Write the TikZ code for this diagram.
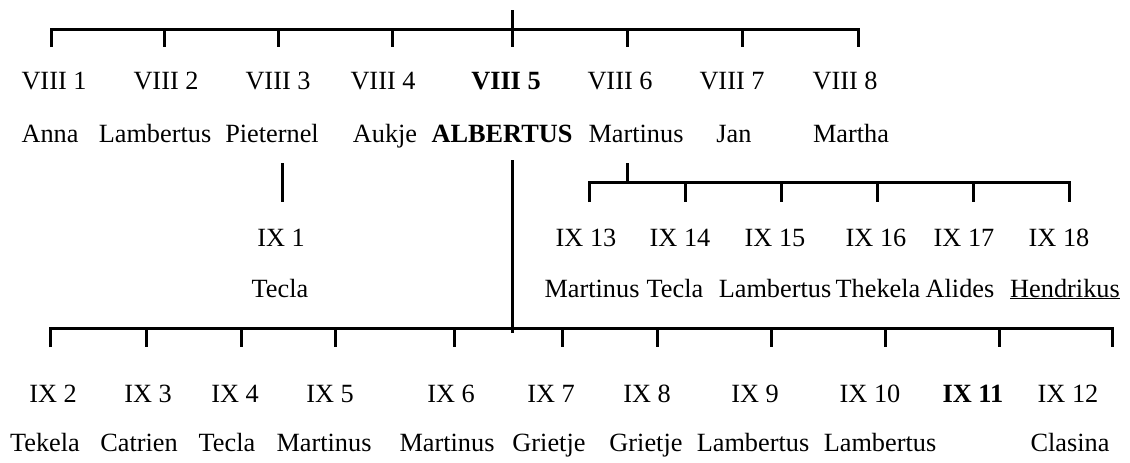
\documentclass[tikz,border=0pt]{standalone}
\usepackage{fontspec}
\setmainfont{Liberation Serif}
\begin{document}
\begin{tikzpicture}[x=1pt,y=-1pt,
  lbl/.style={anchor=base, inner sep=0pt, font=\fontsize{26.3}{30}\selectfont},
  bld/.style={anchor=base, inner sep=0pt, font=\fontsize{26.3}{30}\selectfont\bfseries},
  tree/.style={line width=3pt, line cap=butt, line join=miter}]
\useasboundingbox (0,0) rectangle (1130,463);
% ---------- generation VIII ----------
\node[lbl] (v1) at (54,89) {VIII 1};
\node[lbl] (v2) at (166,89) {VIII 2};
\node[lbl] (v3) at (278,89) {VIII 3};
\node[lbl] (v4) at (383,89) {VIII 4};
\node[bld] (v5) at (506,89) {VIII 5};
\node[lbl] (v6) at (620,89) {VIII 6};
\node[lbl] (v7) at (732,89) {VIII 7};
\node[lbl] (v8) at (845,89) {VIII 8};
\node[lbl] (n1) at (50,142) {Anna};
\node[lbl] (n2) at (155,142) {Lambertus};
\node[lbl] (n3) at (272,142) {Pieternel};
\node[lbl] (n4) at (385,142) {Aukje};
\node[bld] (n5) at (502,142) {ALBERTUS};
\node[lbl] (n6) at (636,142) {Martinus};
\node[lbl] (n7) at (734,142) {Jan};
\node[lbl] (n8) at (851,142) {Martha};
% ---------- IX 1 ----------
\node[lbl] (x1) at (281,246) {IX 1};
\node[lbl] (m1) at (280,297) {Tecla};
% ---------- IX 13-18 ----------
\node[lbl] (x13) at (586,246) {IX 13};
\node[lbl] (x14) at (680,246) {IX 14};
\node[lbl] (x15) at (775,246) {IX 15};
\node[lbl] (x16) at (876,246) {IX 16};
\node[lbl] (x17) at (964,246) {IX 17};
\node[lbl] (x18) at (1059,246) {IX 18};
\node[lbl] (m13) at (592,297) {Martinus};
\node[lbl] (m14) at (675,297) {Tecla};
\node[lbl] (m15) at (775,297) {Lambertus};
\node[lbl] (m16) at (878,297) {Thekela};
\node[lbl] (m17) at (960,297) {Alides};
\node[lbl] (m18) at (1065,297) {\underline{Hendrikus}};
% ---------- IX 2-12 ----------
\node[lbl] (x2) at (53,402) {IX 2};
\node[lbl] (x3) at (148,402) {IX 3};
\node[lbl] (x4) at (235,402) {IX 4};
\node[lbl] (x5) at (330,402) {IX 5};
\node[lbl] (x6) at (451,402) {IX 6};
\node[lbl] (x7) at (551,402) {IX 7};
\node[lbl] (x8) at (647,402) {IX 8};
\node[lbl] (x9) at (755,402) {IX 9};
\node[lbl] (x10) at (870,402) {IX 10};
\node[bld] (x11) at (973,402) {IX 11};
\node[lbl] (x12) at (1068,402) {IX 12};
\node[lbl] (m2) at (45,451) {Tekela};
\node[lbl] (m3) at (139,451) {Catrien};
\node[lbl] (m4) at (227,451) {Tecla};
\node[lbl] (m5) at (324,451) {Martinus};
\node[lbl] (m6) at (447,451) {Martinus};
\node[lbl] (m7) at (549,451) {Grietje};
\node[lbl] (m8) at (646,451) {Grietje};
\node[lbl] (m9) at (753,451) {Lambertus};
\node[lbl] (m10) at (880,451) {Lambertus};
\node[lbl] (m12) at (1070,451) {Clasina};
% ---------- connectors ----------
% top bracket (children of the parents of VIII 5)
\coordinate (topstub) at (512,10);
\coordinate (topL) at (51,29);
\coordinate (topR) at (858,29);
\draw[tree] (51,47) -- (topL) -- (topR) -- (858,47);
\foreach \x in {164,278,392,627,742} \draw[tree] (\x,29) -- (\x,47);
\draw[tree] (topstub) -- (512,47);
% Pieternel -> IX 1
\coordinate (p3a) at (282,163);
\coordinate (p3b) at (282,202);
\draw[tree] (p3a) -- (p3b);
% Albertus -> IX 2-12
\coordinate (alA) at (512,160);
\coordinate (alB) at (512,333);
\draw[tree] (alA) -- (alB);
% Martinus -> IX 13-18
\coordinate (maA) at (627,163);
\coordinate (maB) at (627,182);
\draw[tree] (maA) -- (maB);
\coordinate (midL) at (589,182);
\coordinate (midR) at (1069,182);
\draw[tree] (589,202) -- (midL) -- (midR) -- (1069,202);
\foreach \x in {685,781,877,973} \draw[tree] (\x,182) -- (\x,202);
% bottom bracket
\coordinate (botL) at (50,328);
\coordinate (botR) at (1112,328);
\draw[tree] (50,347) -- (botL) -- (botR) -- (1112,347);
\foreach \x in {146,241,335,454,562,657,771,885,999} \draw[tree] (\x,328) -- (\x,347);
\end{tikzpicture}
\end{document}
